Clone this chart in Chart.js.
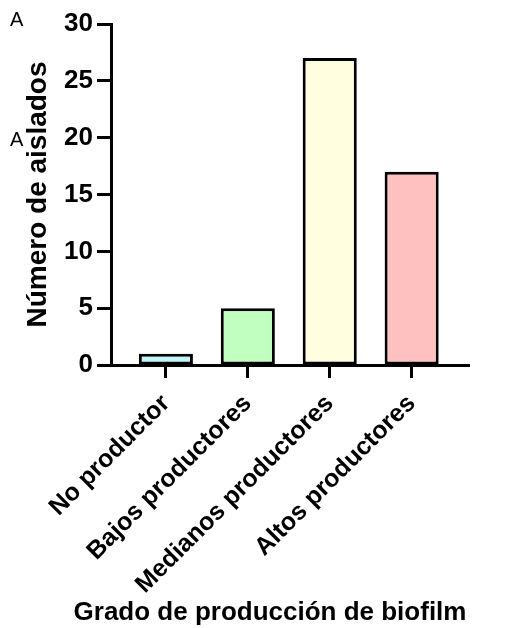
<!DOCTYPE html>
<html>
<head>
<meta charset="utf-8">
<script src="https://cdn.jsdelivr.net/npm/chart.js@4"></script>
<style>
  html, body { margin: 0; padding: 0; background: #fff; }
  #wrap { position: relative; width: 511px; height: 628px; }
  .mark { position: absolute; font-family: 'Liberation Sans', Arial, sans-serif; font-size: 20px; color: #000; }
</style>
</head>
<body>
<div id="wrap">
  <canvas id="chart" width="511" height="628"></canvas>
  <div class="mark" style="left:10px; top:8px;">A</div>
  <div class="mark" style="left:10px; top:128px;">A</div>
</div>
<script>
const categories = ['No productor', 'Bajos productores', 'Medianos productores', 'Altos productores'];
const counts = [1, 5, 27, 17];
const barColors = ['#BFF6FA', '#C0FFC0', '#FFFFE0', '#FFC0C0'];
const yTicks = [0, 5, 10, 15, 20, 25, 30];
const xTitle = 'Grado de producción de biofilm';
const yTitle = 'Número de aislados';

const FONT = "'Liberation Sans', Arial, sans-serif";

// x title drawn by hand so Chart.js does not squeeze it to the axis width
const xTitlePlugin = {
  id: 'xTitle',
  afterDraw(chart) {
    const { ctx, chartArea } = chart;
    ctx.save();
    ctx.font = `bold 26px ${FONT}`;
    ctx.fillStyle = '#000';
    ctx.textAlign = 'center';
    ctx.textBaseline = 'alphabetic';
    ctx.fillText(xTitle, (chartArea.left + chartArea.right) / 2 - 20, chart.height - 8);
    ctx.restore();
  },
};

new Chart(document.getElementById('chart'), {
  type: 'bar',
  data: {
    datasets: [
      {
        data: counts.map((v, i) => ({ x: i, y: v })),
        backgroundColor: barColors,
        borderColor: '#000',
        borderWidth: 3,
        borderSkipped: false,
        barPercentage: 0.66,
        categoryPercentage: 1,
      },
    ],
  },
  options: {
    responsive: false,
    animation: false,
    devicePixelRatio: 1,
    layout: { padding: { top: 24, right: 42, left: 0, bottom: 30 } },
    plugins: { legend: { display: false }, tooltip: { enabled: false } },
    scales: {
      x: {
        type: 'linear',
        min: -0.67,
        max: 3.7,
        offset: false,
        afterFit: (s) => { s.height = 233; },
        afterBuildTicks: (s) => { s.ticks = categories.map((c, i) => ({ value: i })); },
        border: { display: true, color: '#000', width: 3 },
        grid: { display: true, offset: false, drawOnChartArea: false, drawTicks: true, tickLength: 13, tickColor: '#000', tickWidth: 3 },
        ticks: {
          color: '#000',
          font: { family: FONT, size: 25, weight: 'bold' },
          minRotation: 45,
          maxRotation: 45,
          autoSkip: false,
          padding: 11,
          callback: (v) => categories[v],
        },
      },
      y: {
        min: 0,
        max: 30,
        afterFit: (s) => { s.width = 111; },
        afterBuildTicks: (s) => { s.ticks = yTicks.map((v) => ({ value: v })); },
        border: { display: true, color: '#000', width: 3 },
        grid: { display: true, drawOnChartArea: false, drawTicks: true, tickLength: 14, tickColor: '#000', tickWidth: 3 },
        ticks: {
          color: '#000',
          font: { family: FONT, size: 26, weight: 'bold' },
          padding: 4,
        },
        title: {
          display: true,
          text: yTitle,
          color: '#000',
          font: { family: FONT, size: 28, weight: 'bold' },
          padding: { top: 21, bottom: 0 },
        },
      },
    },
  },
  plugins: [xTitlePlugin],
});
</script>
</body>
</html>
